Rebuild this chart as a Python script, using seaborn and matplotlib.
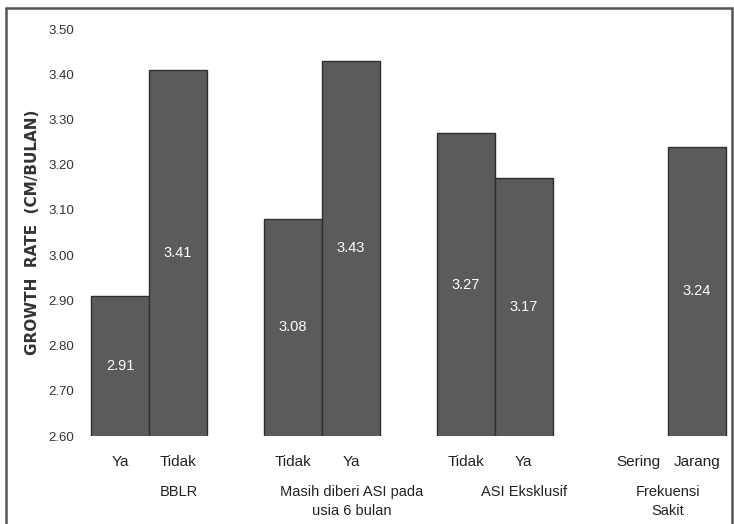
import matplotlib
matplotlib.use("Agg")
import matplotlib.pyplot as plt
from matplotlib import font_manager
import numpy as np
import pandas as pd
import seaborn as sns

# Growth rate by category
groups = ["BBLR", "Masih diberi ASI pada\nusia 6 bulan", "ASI Eksklusif", "Frekuensi\nSakit"]
sub_labels = [["Ya", "Tidak"], ["Tidak", "Ya"], ["Tidak", "Ya"], ["Sering", "Jarang"]]
first_values = [2.91, 3.08, 3.27, np.nan]
second_values = [3.41, 3.43, 3.17, 3.24]
y_ticks = [2.60, 2.70, 2.80, 2.90, 3.00, 3.10, 3.20, 3.30, 3.40, 3.50]

sns.set_theme(style="white")
names = {f.name for f in font_manager.fontManager.ttflist}
narrow = "Liberation Sans Narrow" if "Liberation Sans Narrow" in names else "Liberation Sans"
plt.rcParams["font.family"] = [narrow, "DejaVu Sans"]

rows = []
for g, subs, a, b in zip(groups, sub_labels, first_values, second_values):
    rows.append({"group": g, "slot": 0, "sub": subs[0], "value": a})
    rows.append({"group": g, "slot": 1, "sub": subs[1], "value": b})
df = pd.DataFrame(rows)

fig = plt.figure(figsize=(7.34, 5.24), dpi=100)
ax = fig.add_axes([80 / 734, (524 - 436) / 524, 650 / 734, (436 - 29) / 524])

bar_w = 0.67
sns.barplot(data=df, x="group", y="value", hue="slot", order=groups,
            palette=["#5b5b5b", "#5b5b5b"], width=bar_w, dodge=True,
            edgecolor="#2e2e2e", linewidth=1.0, legend=False, ax=ax,
            errorbar=None)

for cont in ax.containers:
    ax.bar_label(cont, fmt="%.2f", label_type="center", color="white",
                 fontsize=10.5)

ax.set_ylim(2.60, 3.50)
ax.set_xlim(-0.40, 3.36)
ax.set_yticks(y_ticks)
ax.set_yticklabels([f"{t:.2f}" for t in y_ticks], fontsize=9.5, color="#333333")
ax.tick_params(axis="y", length=0, pad=4)

# category labels under each bar
ax.set_xticks([])
ax.set_xlabel("")
half = bar_w / 4
for i, subs in enumerate(sub_labels):
    for s, lab in enumerate(subs):
        x = i + (s - 0.5) * 2 * half
        ax.annotate(lab, xy=(x, 0), xycoords=("data", "axes fraction"),
                    xytext=(0, -19), textcoords="offset points",
                    ha="center", va="center", fontsize=11, color="#222222")

group_offsets = [0.17, 0.17, 0.17, 0.0]
for i, (g, off) in enumerate(zip(groups, group_offsets)):
    ax.annotate(g, xy=(i + off, 0), xycoords=("data", "axes fraction"),
                xytext=(0, -35), textcoords="offset points",
                ha="center", va="top", fontsize=10.5, color="#222222",
                linespacing=1.45)

ax.set_ylabel("GROWTH  RATE  (CM/BULAN)", fontsize=11, fontweight="bold",
              color="#333333", labelpad=6, family=["DejaVu Sans"])
for sp in ax.spines.values():
    sp.set_visible(False)

# outer frame
fig.add_artist(plt.Line2D([6 / 734, 6 / 734], [0, 1 - 8 / 524], transform=fig.transFigure,
                          color="#555555", lw=1.8))
fig.add_artist(plt.Line2D([6 / 734, 732 / 734], [1 - 8 / 524, 1 - 8 / 524],
                          transform=fig.transFigure, color="#555555", lw=1.8))
fig.add_artist(plt.Line2D([732 / 734, 732 / 734], [0, 1 - 8 / 524], transform=fig.transFigure,
                          color="#555555", lw=1.8))

fig.savefig("out.png", dpi=100)
